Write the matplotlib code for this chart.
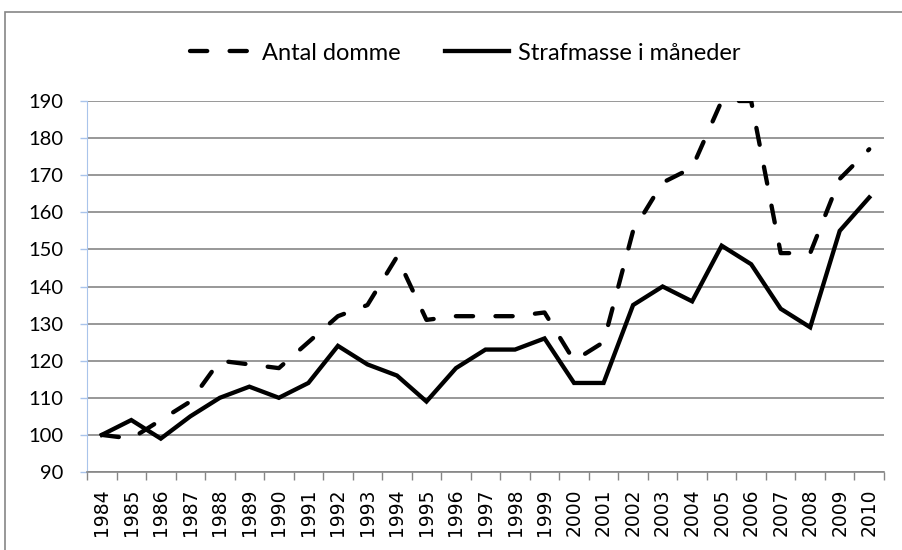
import numpy as np
import matplotlib.pyplot as plt
from matplotlib.patches import Rectangle

# Data (index, 1984 = 100)
years = [str(y) for y in range(1984, 2011)]
antal_domme = [100, 99, 104, 109, 120, 119, 118, 125, 132, 135, 148, 131, 132, 132,
               132, 133, 120, 125, 155, 168, 172, 190, 190, 149, 149, 169, 177]
strafmasse = [100, 104, 99, 105, 110, 113, 110, 114, 124, 119, 116, 109, 118, 123,
              123, 126, 114, 114, 135, 140, 136, 151, 146, 134, 129, 155, 164]
y_ticks = list(range(90, 200, 10))

grid_color = '#868686'
axis_blue = '#A9C4EB'

fig = plt.figure(figsize=(9.03, 5.5), dpi=100)
ax = fig.add_axes([87/903, 1 - 472/550, (884-87)/903, (472-101)/550])

x = np.arange(len(years))

# outer chart border
fig.patches.append(Rectangle((5/903, -0.1), 1.2, 1.1 - 12/550, transform=fig.transFigure,
                             fill=False, edgecolor=grid_color, linewidth=1.2))

ax.plot(x, antal_domme, color='black', linewidth=3.1, linestyle=(0, (4, 5.2)),
        dash_capstyle='round', solid_capstyle='round', label='Antal domme')
ax.plot(x, strafmasse, color='black', linewidth=3.1, solid_joinstyle='miter',
        label='Strafmasse i måneder')

ax.set_xlim(-0.5, len(years) - 0.5)
ax.set_ylim(90, 190)
ax.set_yticks(y_ticks)
ax.set_yticklabels([str(v) for v in y_ticks], fontsize=14.5, family='Lato')
ax.yaxis.grid(True, color=grid_color, linewidth=1.2)
ax.set_axisbelow(True)

# category ticks at boundaries, labels at centers
ax.set_xticks(np.arange(len(years) + 1) - 0.5)
ax.set_xticklabels([])
ax.set_xticks(x, minor=True)
ax.set_xticklabels(years, minor=True, rotation=90, fontsize=13.5, va='top')
ax.tick_params(axis='x', which='major', length=6, color=grid_color, width=1)
ax.tick_params(axis='x', which='minor', length=0, pad=12)
ax.tick_params(axis='y', length=5, color=axis_blue, width=1, pad=12)

for s in ['top', 'right']:
    ax.spines[s].set_visible(False)
ax.spines['left'].set_color(axis_blue)
ax.spines['bottom'].set_color(grid_color)
ax.spines['bottom'].set_linewidth(1.2)

fig.legend(loc='center', bbox_to_anchor=(465/903, 1 - 53/550), ncol=2, frameon=False,
           handlelength=2.7, handletextpad=0.35, columnspacing=1.9,
           prop={'family': 'Lato', 'size': 17})

fig.savefig('out.png', dpi=100)
